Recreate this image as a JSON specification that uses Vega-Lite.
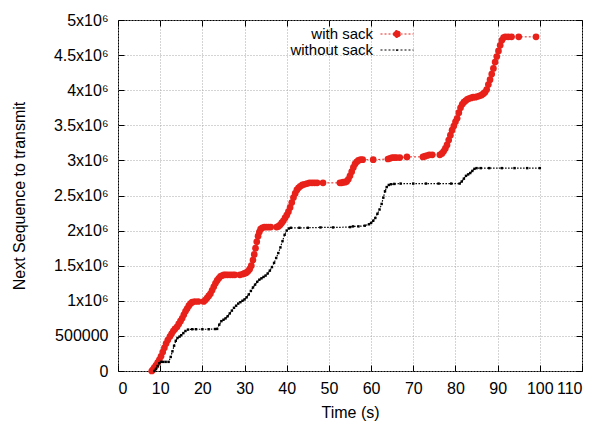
{
  "$schema": "https://vega.github.io/schema/vega-lite/v6.json",
  "width": 464,
  "height": 351,
  "autosize": {"type": "none"},
  "padding": {"left": 118, "top": 20, "right": 17, "bottom": 52},
  "background": "white",
  "config": {
    "font": "Liberation Sans",
    "view": {"stroke": "#000000", "strokeWidth": 1},
    "axis": {
      "domain": false,
      "labelColor": "#000000",
      "titleColor": "#000000",
      "labelFontSize": 16,
      "titleFontSize": 16,
      "titleFontWeight": "normal",
      "tickColor": "#000000",
      "tickSize": -6,
      "tickWidth": 1,
      "gridColor": "#a8a8a8",
      "gridDash": [1, 2],
      "gridWidth": 1
    }
  },
  "datasets": {
    "seq": [
      {"s": "with sack", "t": 8.0, "v": 0},
      {"s": "with sack", "t": 8.3, "v": 20000},
      {"s": "with sack", "t": 8.6, "v": 50000},
      {"s": "with sack", "t": 9.0, "v": 80000},
      {"s": "with sack", "t": 9.4, "v": 120000},
      {"s": "with sack", "t": 9.8, "v": 160000},
      {"s": "with sack", "t": 10.2, "v": 210000},
      {"s": "with sack", "t": 10.6, "v": 270000},
      {"s": "with sack", "t": 11.0, "v": 330000},
      {"s": "with sack", "t": 11.4, "v": 390000},
      {"s": "with sack", "t": 11.8, "v": 440000},
      {"s": "with sack", "t": 12.3, "v": 490000},
      {"s": "with sack", "t": 12.7, "v": 530000},
      {"s": "with sack", "t": 13.1, "v": 570000},
      {"s": "with sack", "t": 13.5, "v": 600000},
      {"s": "with sack", "t": 14.0, "v": 630000},
      {"s": "with sack", "t": 14.4, "v": 670000},
      {"s": "with sack", "t": 14.8, "v": 710000},
      {"s": "with sack", "t": 15.2, "v": 750000},
      {"s": "with sack", "t": 15.6, "v": 800000},
      {"s": "with sack", "t": 16.0, "v": 850000},
      {"s": "with sack", "t": 16.4, "v": 890000},
      {"s": "with sack", "t": 16.8, "v": 930000},
      {"s": "with sack", "t": 17.2, "v": 960000},
      {"s": "with sack", "t": 17.6, "v": 980000},
      {"s": "with sack", "t": 18.2, "v": 990000},
      {"s": "with sack", "t": 19.0, "v": 990000},
      {"s": "with sack", "t": 20.3, "v": 990000},
      {"s": "with sack", "t": 20.7, "v": 1010000},
      {"s": "with sack", "t": 21.1, "v": 1040000},
      {"s": "with sack", "t": 21.5, "v": 1070000},
      {"s": "with sack", "t": 21.9, "v": 1100000},
      {"s": "with sack", "t": 22.3, "v": 1150000},
      {"s": "with sack", "t": 22.7, "v": 1200000},
      {"s": "with sack", "t": 23.1, "v": 1250000},
      {"s": "with sack", "t": 23.5, "v": 1290000},
      {"s": "with sack", "t": 23.9, "v": 1320000},
      {"s": "with sack", "t": 24.3, "v": 1350000},
      {"s": "with sack", "t": 24.7, "v": 1360000},
      {"s": "with sack", "t": 25.1, "v": 1370000},
      {"s": "with sack", "t": 25.5, "v": 1370000},
      {"s": "with sack", "t": 26.0, "v": 1370000},
      {"s": "with sack", "t": 26.6, "v": 1370000},
      {"s": "with sack", "t": 27.2, "v": 1370000},
      {"s": "with sack", "t": 27.7, "v": 1370000},
      {"s": "with sack", "t": 28.9, "v": 1370000},
      {"s": "with sack", "t": 29.6, "v": 1380000},
      {"s": "with sack", "t": 30.0, "v": 1390000},
      {"s": "with sack", "t": 30.4, "v": 1400000},
      {"s": "with sack", "t": 30.8, "v": 1420000},
      {"s": "with sack", "t": 31.2, "v": 1450000},
      {"s": "with sack", "t": 31.6, "v": 1500000},
      {"s": "with sack", "t": 32.0, "v": 1580000},
      {"s": "with sack", "t": 32.3, "v": 1660000},
      {"s": "with sack", "t": 32.6, "v": 1750000},
      {"s": "with sack", "t": 32.9, "v": 1840000},
      {"s": "with sack", "t": 33.2, "v": 1920000},
      {"s": "with sack", "t": 33.5, "v": 1980000},
      {"s": "with sack", "t": 33.8, "v": 2020000},
      {"s": "with sack", "t": 34.2, "v": 2040000},
      {"s": "with sack", "t": 34.7, "v": 2050000},
      {"s": "with sack", "t": 35.2, "v": 2050000},
      {"s": "with sack", "t": 35.7, "v": 2050000},
      {"s": "with sack", "t": 36.2, "v": 2050000},
      {"s": "with sack", "t": 37.6, "v": 2050000},
      {"s": "with sack", "t": 38.0, "v": 2060000},
      {"s": "with sack", "t": 38.4, "v": 2080000},
      {"s": "with sack", "t": 38.8, "v": 2110000},
      {"s": "with sack", "t": 39.2, "v": 2140000},
      {"s": "with sack", "t": 39.6, "v": 2180000},
      {"s": "with sack", "t": 40.0, "v": 2220000},
      {"s": "with sack", "t": 40.4, "v": 2270000},
      {"s": "with sack", "t": 40.8, "v": 2330000},
      {"s": "with sack", "t": 41.2, "v": 2400000},
      {"s": "with sack", "t": 41.6, "v": 2470000},
      {"s": "with sack", "t": 42.0, "v": 2530000},
      {"s": "with sack", "t": 42.4, "v": 2580000},
      {"s": "with sack", "t": 42.8, "v": 2610000},
      {"s": "with sack", "t": 43.2, "v": 2630000},
      {"s": "with sack", "t": 43.7, "v": 2650000},
      {"s": "with sack", "t": 44.2, "v": 2660000},
      {"s": "with sack", "t": 44.8, "v": 2670000},
      {"s": "with sack", "t": 45.4, "v": 2680000},
      {"s": "with sack", "t": 46.0, "v": 2680000},
      {"s": "with sack", "t": 46.6, "v": 2680000},
      {"s": "with sack", "t": 47.2, "v": 2680000},
      {"s": "with sack", "t": 48.6, "v": 2680000},
      {"s": "with sack", "t": 52.6, "v": 2680000},
      {"s": "with sack", "t": 53.0, "v": 2680000},
      {"s": "with sack", "t": 53.4, "v": 2690000},
      {"s": "with sack", "t": 53.8, "v": 2690000},
      {"s": "with sack", "t": 54.2, "v": 2700000},
      {"s": "with sack", "t": 54.6, "v": 2730000},
      {"s": "with sack", "t": 55.0, "v": 2780000},
      {"s": "with sack", "t": 55.4, "v": 2840000},
      {"s": "with sack", "t": 55.8, "v": 2900000},
      {"s": "with sack", "t": 56.2, "v": 2950000},
      {"s": "with sack", "t": 56.6, "v": 2980000},
      {"s": "with sack", "t": 57.0, "v": 3000000},
      {"s": "with sack", "t": 57.5, "v": 3010000},
      {"s": "with sack", "t": 58.0, "v": 3010000},
      {"s": "with sack", "t": 60.5, "v": 3010000},
      {"s": "with sack", "t": 64.0, "v": 3020000},
      {"s": "with sack", "t": 64.5, "v": 3030000},
      {"s": "with sack", "t": 65.0, "v": 3040000},
      {"s": "with sack", "t": 65.5, "v": 3040000},
      {"s": "with sack", "t": 66.0, "v": 3040000},
      {"s": "with sack", "t": 66.8, "v": 3040000},
      {"s": "with sack", "t": 68.5, "v": 3050000},
      {"s": "with sack", "t": 72.3, "v": 3050000},
      {"s": "with sack", "t": 72.8, "v": 3060000},
      {"s": "with sack", "t": 73.3, "v": 3070000},
      {"s": "with sack", "t": 73.8, "v": 3080000},
      {"s": "with sack", "t": 74.5, "v": 3080000},
      {"s": "with sack", "t": 76.3, "v": 3080000},
      {"s": "with sack", "t": 76.8, "v": 3100000},
      {"s": "with sack", "t": 77.2, "v": 3130000},
      {"s": "with sack", "t": 77.6, "v": 3170000},
      {"s": "with sack", "t": 78.0, "v": 3220000},
      {"s": "with sack", "t": 78.4, "v": 3290000},
      {"s": "with sack", "t": 78.8, "v": 3360000},
      {"s": "with sack", "t": 79.2, "v": 3430000},
      {"s": "with sack", "t": 79.6, "v": 3490000},
      {"s": "with sack", "t": 80.0, "v": 3550000},
      {"s": "with sack", "t": 80.4, "v": 3600000},
      {"s": "with sack", "t": 80.8, "v": 3680000},
      {"s": "with sack", "t": 81.2, "v": 3750000},
      {"s": "with sack", "t": 81.6, "v": 3800000},
      {"s": "with sack", "t": 82.0, "v": 3830000},
      {"s": "with sack", "t": 82.4, "v": 3850000},
      {"s": "with sack", "t": 82.8, "v": 3870000},
      {"s": "with sack", "t": 83.2, "v": 3880000},
      {"s": "with sack", "t": 83.7, "v": 3890000},
      {"s": "with sack", "t": 84.2, "v": 3900000},
      {"s": "with sack", "t": 84.7, "v": 3900000},
      {"s": "with sack", "t": 85.2, "v": 3910000},
      {"s": "with sack", "t": 85.7, "v": 3920000},
      {"s": "with sack", "t": 86.2, "v": 3930000},
      {"s": "with sack", "t": 86.6, "v": 3950000},
      {"s": "with sack", "t": 87.0, "v": 3970000},
      {"s": "with sack", "t": 87.4, "v": 4010000},
      {"s": "with sack", "t": 87.8, "v": 4080000},
      {"s": "with sack", "t": 88.2, "v": 4150000},
      {"s": "with sack", "t": 88.6, "v": 4230000},
      {"s": "with sack", "t": 89.0, "v": 4310000},
      {"s": "with sack", "t": 89.4, "v": 4400000},
      {"s": "with sack", "t": 89.8, "v": 4480000},
      {"s": "with sack", "t": 90.2, "v": 4560000},
      {"s": "with sack", "t": 90.6, "v": 4640000},
      {"s": "with sack", "t": 91.0, "v": 4710000},
      {"s": "with sack", "t": 91.4, "v": 4750000},
      {"s": "with sack", "t": 91.8, "v": 4760000},
      {"s": "with sack", "t": 92.5, "v": 4760000},
      {"s": "with sack", "t": 93.3, "v": 4760000},
      {"s": "with sack", "t": 95.0, "v": 4760000},
      {"s": "with sack", "t": 99.1, "v": 4760000},
      {"s": "without sack", "t": 8.6, "v": 0},
      {"s": "without sack", "t": 9.0, "v": 30000},
      {"s": "without sack", "t": 9.4, "v": 70000},
      {"s": "without sack", "t": 9.8, "v": 110000},
      {"s": "without sack", "t": 10.2, "v": 130000},
      {"s": "without sack", "t": 10.7, "v": 130000},
      {"s": "without sack", "t": 11.3, "v": 130000},
      {"s": "without sack", "t": 12.0, "v": 130000},
      {"s": "without sack", "t": 12.5, "v": 200000},
      {"s": "without sack", "t": 12.9, "v": 280000},
      {"s": "without sack", "t": 13.3, "v": 360000},
      {"s": "without sack", "t": 13.7, "v": 430000},
      {"s": "without sack", "t": 14.1, "v": 470000},
      {"s": "without sack", "t": 14.6, "v": 490000},
      {"s": "without sack", "t": 15.0, "v": 510000},
      {"s": "without sack", "t": 15.5, "v": 540000},
      {"s": "without sack", "t": 16.0, "v": 570000},
      {"s": "without sack", "t": 16.6, "v": 590000},
      {"s": "without sack", "t": 17.6, "v": 595000},
      {"s": "without sack", "t": 18.5, "v": 595000},
      {"s": "without sack", "t": 20.0, "v": 595000},
      {"s": "without sack", "t": 21.5, "v": 595000},
      {"s": "without sack", "t": 23.0, "v": 598000},
      {"s": "without sack", "t": 23.5, "v": 600000},
      {"s": "without sack", "t": 24.0, "v": 660000},
      {"s": "without sack", "t": 24.5, "v": 710000},
      {"s": "without sack", "t": 25.0, "v": 730000},
      {"s": "without sack", "t": 25.5, "v": 750000},
      {"s": "without sack", "t": 26.0, "v": 780000},
      {"s": "without sack", "t": 26.5, "v": 820000},
      {"s": "without sack", "t": 27.0, "v": 860000},
      {"s": "without sack", "t": 27.5, "v": 900000},
      {"s": "without sack", "t": 28.0, "v": 930000},
      {"s": "without sack", "t": 28.5, "v": 960000},
      {"s": "without sack", "t": 29.0, "v": 980000},
      {"s": "without sack", "t": 29.5, "v": 1000000},
      {"s": "without sack", "t": 30.0, "v": 1020000},
      {"s": "without sack", "t": 30.5, "v": 1050000},
      {"s": "without sack", "t": 31.0, "v": 1090000},
      {"s": "without sack", "t": 31.5, "v": 1140000},
      {"s": "without sack", "t": 32.0, "v": 1190000},
      {"s": "without sack", "t": 32.5, "v": 1230000},
      {"s": "without sack", "t": 33.0, "v": 1270000},
      {"s": "without sack", "t": 33.5, "v": 1300000},
      {"s": "without sack", "t": 34.0, "v": 1320000},
      {"s": "without sack", "t": 34.5, "v": 1340000},
      {"s": "without sack", "t": 35.0, "v": 1360000},
      {"s": "without sack", "t": 35.5, "v": 1390000},
      {"s": "without sack", "t": 36.0, "v": 1430000},
      {"s": "without sack", "t": 36.5, "v": 1480000},
      {"s": "without sack", "t": 37.0, "v": 1540000},
      {"s": "without sack", "t": 37.5, "v": 1610000},
      {"s": "without sack", "t": 38.0, "v": 1680000},
      {"s": "without sack", "t": 38.5, "v": 1760000},
      {"s": "without sack", "t": 39.0, "v": 1850000},
      {"s": "without sack", "t": 39.5, "v": 1940000},
      {"s": "without sack", "t": 40.0, "v": 2000000},
      {"s": "without sack", "t": 40.5, "v": 2030000},
      {"s": "without sack", "t": 41.0, "v": 2040000},
      {"s": "without sack", "t": 43.0, "v": 2040000},
      {"s": "without sack", "t": 45.0, "v": 2040000},
      {"s": "without sack", "t": 48.0, "v": 2045000},
      {"s": "without sack", "t": 51.0, "v": 2045000},
      {"s": "without sack", "t": 55.0, "v": 2050000},
      {"s": "without sack", "t": 55.7, "v": 2060000},
      {"s": "without sack", "t": 57.0, "v": 2060000},
      {"s": "without sack", "t": 58.5, "v": 2070000},
      {"s": "without sack", "t": 59.5, "v": 2090000},
      {"s": "without sack", "t": 60.0, "v": 2110000},
      {"s": "without sack", "t": 60.5, "v": 2140000},
      {"s": "without sack", "t": 61.0, "v": 2180000},
      {"s": "without sack", "t": 61.5, "v": 2240000},
      {"s": "without sack", "t": 62.0, "v": 2300000},
      {"s": "without sack", "t": 62.5, "v": 2380000},
      {"s": "without sack", "t": 62.9, "v": 2470000},
      {"s": "without sack", "t": 63.3, "v": 2560000},
      {"s": "without sack", "t": 63.7, "v": 2620000},
      {"s": "without sack", "t": 64.2, "v": 2650000},
      {"s": "without sack", "t": 64.7, "v": 2660000},
      {"s": "without sack", "t": 65.5, "v": 2665000},
      {"s": "without sack", "t": 67.0, "v": 2670000},
      {"s": "without sack", "t": 70.0, "v": 2670000},
      {"s": "without sack", "t": 73.0, "v": 2670000},
      {"s": "without sack", "t": 76.0, "v": 2670000},
      {"s": "without sack", "t": 79.0, "v": 2670000},
      {"s": "without sack", "t": 81.0, "v": 2670000},
      {"s": "without sack", "t": 81.5, "v": 2700000},
      {"s": "without sack", "t": 82.0, "v": 2740000},
      {"s": "without sack", "t": 82.5, "v": 2780000},
      {"s": "without sack", "t": 83.0, "v": 2800000},
      {"s": "without sack", "t": 83.5, "v": 2820000},
      {"s": "without sack", "t": 84.0, "v": 2850000},
      {"s": "without sack", "t": 84.5, "v": 2880000},
      {"s": "without sack", "t": 85.0, "v": 2890000},
      {"s": "without sack", "t": 86.0, "v": 2890000},
      {"s": "without sack", "t": 88.0, "v": 2890000},
      {"s": "without sack", "t": 91.0, "v": 2890000},
      {"s": "without sack", "t": 94.0, "v": 2890000},
      {"s": "without sack", "t": 97.0, "v": 2890000},
      {"s": "without sack", "t": 100.0, "v": 2890000}
    ]
  },
  "data": {"name": "seq"},
  "layer": [
    {
      "transform": [{"filter": "datum.s == 'with sack'"}],
      "mark": {
        "type": "line",
        "strokeWidth": 1,
        "strokeDash": [2, 2],
        "point": {"filled": true, "size": 45}
      },
      "encoding": {
        "x": {
          "field": "t", "type": "quantitative",
          "scale": {"domain": [0, 110], "nice": false, "zero": false},
          "axis": {
            "orient": "bottom",
            "values": [0, 10, 20, 30, 40, 50, 60, 70, 80, 90, 100, 110],
            "grid": true,
            "labelPadding": 15,
            "title": "Time (s)",
            "titlePadding": 8
          }
        },
        "y": {
          "field": "v", "type": "quantitative",
          "scale": {"domain": [0, 5000000], "nice": false},
          "axis": {
            "orient": "left",
            "values": [0, 500000, 1000000, 1500000, 2000000, 2500000, 3000000, 3500000, 4000000, 4500000, 5000000],
            "grid": true,
            "labelPadding": 16,
            "labelExpr": "datum.value == 0 ? '0' : datum.value == 500000 ? '500000' : (datum.value / 1000000) + 'x10⁶'",
            "title": "Next Sequence to transmit",
            "titlePadding": 26
          }
        },
        "color": {
          "field": "s", "type": "nominal",
          "scale": {"domain": ["with sack", "without sack"], "range": ["#e8211a", "#000000"]},
          "legend": {
            "orient": "none",
            "legendX": 271,
            "legendY": 6,
            "title": null,
            "symbolType": "stroke",
            "symbolSize": 225,
            "symbolStrokeWidth": 1,
            "symbolDash": [2, 2],
            "labelFontSize": 15,
            "labelColor": "#000000",
            "labelAlign": "right",
            "labelOffset": -32,
            "rowPadding": 0,
            "encode": {
              "symbols": {
                "update": {
                  "shape": {"signal": "datum.value == 'with sack' ? 'M-2.2,0H2.2M-0.47,0A0.47,0.47,0,1,0,0.47,0A0.47,0.47,0,1,0,-0.47,0Z' : 'M-2.2,0H2.2M-0.1,0A0.1,0.1,0,1,0,0.1,0A0.1,0.1,0,1,0,-0.1,0Z'"},
                  "fill": {"scale": "color", "field": "value"},
                  "fillOpacity": {"value": 1}
                }
              }
            }
          }
        }
      }
    },
    {
      "transform": [{"filter": "datum.s == 'without sack'"}],
      "mark": {
        "type": "line",
        "strokeWidth": 1.2,
        "strokeDash": [1.5, 1.5],
        "point": {"filled": true, "size": 6, "shape": "square"}
      },
      "encoding": {
        "x": {
          "field": "t", "type": "quantitative",
          "axis": {
            "orient": "top",
            "values": [0, 10, 20, 30, 40, 50, 60, 70, 80, 90, 100, 110],
            "labels": false, "grid": false, "title": null
          }
        },
        "y": {
          "field": "v", "type": "quantitative",
          "axis": {
            "orient": "right",
            "values": [0, 500000, 1000000, 1500000, 2000000, 2500000, 3000000, 3500000, 4000000, 4500000, 5000000],
            "labels": false, "grid": false, "title": null
          }
        },
        "color": {"field": "s", "type": "nominal"}
      }
    }
  ],
  "resolve": {"axis": {"x": "independent", "y": "independent"}}
}
